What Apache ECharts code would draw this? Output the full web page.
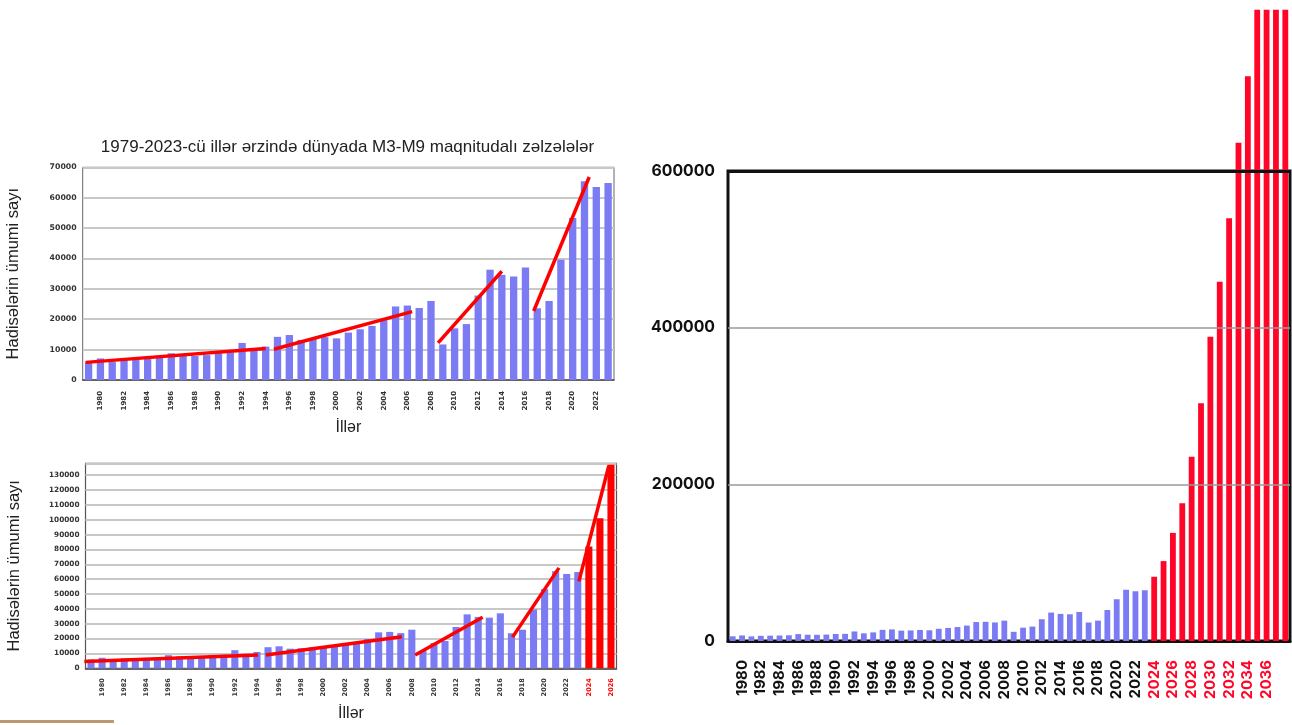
<!DOCTYPE html>
<html><head><meta charset="utf-8">
<script src="https://cdn.jsdelivr.net/npm/echarts@6/dist/echarts.min.js"></script>
<style>html,body{margin:0;padding:0;background:#fff}#c{width:1292px;height:725px}</style>
</head><body><div id="c"></div>
<script>
// ---------- DATA ----------
const yearsObserved = ['1979','1980','1981','1982','1983','1984','1985','1986','1987','1988',
  '1989','1990','1991','1992','1993','1994','1995','1996','1997','1998',
  '1999','2000','2001','2002','2003','2004','2005','2006','2007','2008',
  '2009','2010','2011','2012','2013','2014','2015','2016','2017','2018',
  '2019','2020','2021','2022','2023'];
const observed = [6000,7100,5900,6600,6800,7000,7300,8800,8000,7900,
  8200,8900,9100,12200,9800,11000,14200,14800,13200,13500,
  14100,13700,15600,16700,17800,19700,24200,24500,23700,26000,
  11700,17000,18400,27800,36300,34600,34100,37000,23600,26000,
  39600,53300,65400,63500,64800];
const yearsForecast = ['2024','2025','2026','2027','2028','2029','2030','2031','2032','2033',
  '2034','2035','2036','2037','2038'];
const forecast = [82000,102000,138000,175700,235300,303400,388500,458700,539600,636000,
  721000,806000,806000,806000,806000];
const forecastShortYears = ['2024','2025','2026'];
const forecastShort = [82000,101000,137000];

const ticksTop = [0,10000,20000,30000,40000,50000,60000,70000];
const ticksMid = [0,10000,20000,30000,40000,50000,60000,70000,80000,90000,100000,110000,120000,130000];
const ticksBig = [0,200000,400000,600000];

// hand-drawn trend segments: [categoryIndex, value]
const trendTop = [
  [[-0.25,5800],[15.0,10400]],
  [[15.7,10100],[27.4,22500]],
  [[29.6,12200],[35.0,35800]],
  [[37.7,22700],[42.4,66800]]
];
const trendMid = [
  [[-0.6,4500],[15.1,9000]],
  [[15.8,9000],[28.1,21300]],
  [[29.3,9000],[35.4,34400]],
  [[38.1,21000],[42.3,67600]],
  [[44.1,58500],[46.8,136200]]
];

const titleTop = '1979-2023-cü illər ərzində dünyada M3-M9 maqnitudalı zəlzələlər';
const yName = 'Hadisələrin ümumi sayı';
const xName = 'İllər';

// ---------- STYLE ----------
const BLUE = '#7b7bf4', RED = '#ff0000', RED3 = '#ff0528';
const smallFont = {fontFamily:'DejaVu Sans', fontWeight:'bold', color:'#333'};
const plain = (v)=>String(v);

const catsMid = yearsObserved.concat(forecastShortYears);
const catsBig = yearsObserved.concat(yearsForecast);

function lineSeries(segs, xi, yi){
  return segs.map(s => ({type:'line', xAxisIndex:xi, yAxisIndex:yi, data:s, symbol:'none',
    lineStyle:{color:RED, width:3.5}, z:5, silent:true, animation:false}));
}

const chart = echarts.init(document.getElementById('c'), null, {renderer:'canvas'});
chart.setOption({
  animation:false,
  backgroundColor:'#fff',
  graphic:[
    {type:'text', x:347.5, y:147, style:{text:titleTop, font:'17px "Liberation Sans"', fill:'#222', textAlign:'center', textVerticalAlign:'middle'}},
    {type:'rect', shape:{x:0, y:720, width:114, height:3}, style:{fill:'#b99a72'}}
  ],
  grid:[
    {left:82.7, top:167.3, width:531.3, height:212.7, show:true, borderColor:'#666', borderWidth:1, containLabel:false},
    {left:85.5, top:463.3, width:531, height:205, show:true, borderColor:'#555', borderWidth:1.2, containLabel:false},
    {left:728, top:171, width:562, height:470, show:true, borderColor:'#111', borderWidth:3, containLabel:false}
  ],
  xAxis:[
    {type:'category', gridIndex:0, data:yearsObserved, axisTick:{show:false},
      axisLine:{lineStyle:{color:'#444', width:1.5}},
      axisLabel:Object.assign({rotate:90, fontSize:7, margin:11, interval:(i,v)=>Number(v)%2===0}, smallFont),
      name:xName, nameLocation:'middle', nameGap:40, nameTextStyle:{fontFamily:'Liberation Sans', fontSize:16, color:'#222'}},
    {type:'value', gridIndex:0, min:-0.5, max:yearsObserved.length-0.5, show:false},
    {type:'category', gridIndex:1, data:catsMid, axisTick:{show:false},
      axisLine:{lineStyle:{color:'#444', width:1.5}},
      axisLabel:Object.assign({}, smallFont, {rotate:90, fontSize:6.5, margin:10, interval:(i,v)=>Number(v)%2===0,
        color:(v)=>Number(v)>=2024?'#ff0000':'#333'}),
      name:xName, nameLocation:'middle', nameGap:37, nameTextStyle:{fontFamily:'Liberation Sans', fontSize:16, color:'#222'}},
    {type:'value', gridIndex:1, min:-0.5, max:catsMid.length-0.5, show:false},
    {type:'category', gridIndex:2, data:catsBig, axisTick:{show:false},
      axisLine:{lineStyle:{color:'#111', width:3}},
      axisLabel:{rotate:90, fontSize:15, margin:19, fontFamily:'Inter', fontWeight:700,
        interval:(i,v)=>Number(v)%2===0 && Number(v)<=2036,
        color:(v)=>Number(v)>=2024?RED3:'#111'}}
  ],
  yAxis:[
    {type:'value', gridIndex:0, min:ticksTop[0], max:ticksTop[ticksTop.length-1], interval:10000,
      axisLine:{show:false}, axisTick:{show:false},
      axisLabel:Object.assign({fontSize:7.8, margin:6, formatter:plain}, smallFont),
      splitLine:{lineStyle:{color:'#c8c8c8', width:2}},
      name:yName, nameLocation:'middle', nameGap:61, nameRotate:90,
      nameTextStyle:{fontFamily:'Liberation Sans', fontSize:16.5, color:'#222'}},
    {type:'value', gridIndex:1, min:0, max:138000, interval:10000,
      axisLine:{show:false}, axisTick:{show:false},
      axisLabel:Object.assign({fontSize:7.3, margin:6, showMaxLabel:false,
        formatter:(v)=>ticksMid.indexOf(v)>=0?String(v):''}, smallFont),
      splitLine:{lineStyle:{color:'#c8c8c8', width:2}},
      name:yName, nameLocation:'middle', nameGap:63, nameRotate:90,
      nameTextStyle:{fontFamily:'Liberation Sans', fontSize:16.5, color:'#222'}},
    {type:'value', gridIndex:2, min:0, max:ticksBig[ticksBig.length-1], interval:200000,
      axisLine:{show:false}, axisTick:{show:false},
      axisLabel:{fontSize:15.8, margin:13, fontFamily:'Inter', fontWeight:700, color:'#111', formatter:plain},
      splitLine:{show:false}}
  ],
  series:[
    {type:'bar', xAxisIndex:0, yAxisIndex:0, data:observed, barWidth:'62%', itemStyle:{color:BLUE}},
    ...lineSeries(trendTop, 1, 0),
    {type:'bar', xAxisIndex:2, yAxisIndex:1, barWidth:'64%',
      data:observed.map(v=>({value:v})).concat(forecastShort.map(v=>({value:v, itemStyle:{color:RED}}))),
      itemStyle:{color:BLUE}},
    ...lineSeries(trendMid, 3, 1),
    {type:'bar', xAxisIndex:4, yAxisIndex:2, barWidth:'62%', clip:false,
      data:observed.map(v=>({value:v})).concat(forecast.map(v=>({value:v, itemStyle:{color:RED3}}))),
      itemStyle:{color:BLUE},
      markLine:{silent:true, symbol:['none','none'], label:{show:false}, animation:false,
        data:[
          {yAxis:200000, lineStyle:{color:'#9a9a9a', width:1.5, type:'solid'}},
          {yAxis:400000, lineStyle:{color:'#9a9a9a', width:1.5, type:'solid'}},
          {yAxis:600000, lineStyle:{color:'#111', width:3, type:'solid'}}
        ]}}
  ]
});
</script>
</body></html>
